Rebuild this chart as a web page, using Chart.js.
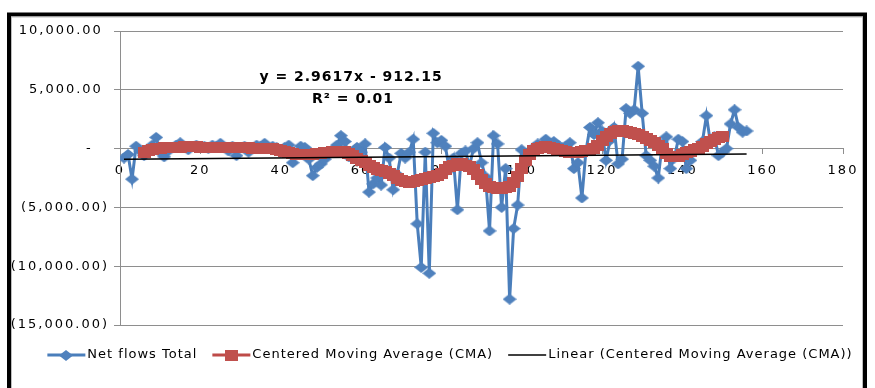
<!DOCTYPE html>
<html>
<head>
<meta charset="utf-8">
<script src="https://cdn.jsdelivr.net/npm/chart.js@4/dist/chart.umd.min.js"></script>
<style>
  html, body { margin: 0; padding: 0; background: #ffffff; }
  canvas { display: block; }
</style>
</head>
<body>
<canvas id="flows" width="875" height="388"></canvas>
<script>
// ---- data ---------------------------------------------------------------
// Net flows per period, periods numbered from 1
const NET_FIRST_PERIOD = 1;
const netFlows = [
  -800, -500, -2600, 200, -200, -600, -100, 300, 950, -300,
  -700, -200, 100, 300, 500, 100, -100, 200, 300, 100,
  200, 0, 300, 200, 450, 100, -200, 200, -600, 100,
  200, -300, 100, 300, 200, 450, 0, 200, 100, -300,
  100, 300, -1200, -500, 200, 100, -900, -2300, -1600, -1300,
  -900, -400, -200, 300, 1100, 600, -700, -300, 100, -300,
  400, -3700, -3000, -2500, -3100, 100, -800, -3500, -2200, -400,
  -800, -300, 800, -6400, -10100, -300, -10600, 1300, 500, 700,
  200, -1800, -800, -5200, -400, -200, -1500, 0, 500, -1200,
  -2400, -7000, 1100, 400, -5000, -1700, -12800, -6800, -4800, -100,
  -700, -300, 100, 400, 300, 800, 400, 600, 300, 100,
  200, 500, -1700, -1200, -4200, -200, 1800, 1200, 2200, 1500,
  -1000, 700, 1800, -1300, -900, 3400, 3000, 3300, 7000, 3000,
  -600, -1000, -1500, -2500, 400, 1000, -1700, -800, 800, 600,
  -1700, -1000, -200, 0, 600, 2800, 500, 1000, -600, -300,
  0, 2100, 3300, 1800, 1400, 1500
];

// Centered moving average, first value sits on period 6
const CMA_FIRST_PERIOD = 6;
const cmaValues = [
  -350, -200, -100, 0, 50, 80, 100, 120, 130, 130,
  140, 140, 140, 140, 130, 130, 120, 120, 110, 100,
  100, 90, 80, 80, 70, 60, 60, 50, 50, 40,
  30, 10, -20, -60, -150, -250, -350, -450, -500, -520,
  -530, -520, -500, -450, -400, -350, -300, -250, -230, -220,
  -250, -400, -600, -800, -1000, -1200, -1400, -1600, -1750, -1850,
  -1950, -2100, -2300, -2500, -2700, -2800, -2850, -2800, -2700, -2600,
  -2500, -2450, -2400, -2300, -2100, -1800, -1500, -1400, -1300, -1300,
  -1400, -1500, -1800, -2200, -2600, -3000, -3200, -3300, -3400, -3400,
  -3350, -3200, -2900, -2400, -1700, -1000, -500, -200, 0, 100,
  150, 100, 0, -100, -200, -250, -300, -300, -300, -250,
  -200, -150, 0, 300, 700, 1000, 1300, 1450, 1500, 1500,
  1450, 1400, 1300, 1200, 1050, 900, 700, 500, 300, 0,
  -400, -650, -700, -650, -500, -350, -250, -100, 50, 200,
  400, 600, 800, 950, 1000
];

// Linear trend fitted to the moving average
const TREND_SLOPE = 2.9617;
const TREND_INTERCEPT = -912.15;
const TREND_R2 = 0.01;
const TREND_RANGE = [1, 156];

// Axes
const X_AXIS = { min: 0, max: 180, step: 20 };
const Y_AXIS = { min: -15000, max: 10000, step: 5000 };

const SERIES_NAMES = [
  'Net flows Total',
  'Centered Moving Average (CMA)',
  'Linear (Centered Moving Average (CMA))'
];

// ---- helpers ------------------------------------------------------------
const toPoints = (first, values) => values.map((v, i) => ({ x: first + i, y: v }));

const trendPoints = TREND_RANGE.map(x => ({ x, y: TREND_SLOPE * x + TREND_INTERCEPT }));

function accounting(v) {
  if (v === 0) return '-\u2007 ';
  const s = Math.abs(v).toLocaleString('en-US', { minimumFractionDigits: 2, maximumFractionDigits: 2 });
  return v < 0 ? '(' + s + ')' : s + ' ';
}

function markerCanvas(w, h, fill, shape) {
  const c = document.createElement('canvas');
  c.width = w; c.height = h;
  const g = c.getContext('2d');
  g.fillStyle = fill;
  if (shape === 'diamond') {
    g.beginPath();
    g.moveTo(w / 2, 0); g.lineTo(w, h / 2); g.lineTo(w / 2, h); g.lineTo(0, h / 2);
    g.closePath(); g.fill();
  } else {
    g.fillRect(0, 0, w, h);
  }
  return c;
}

const BLUE_LINE = '#4A7EBB', BLUE_MARK = '#4F81BD';
const RED_LINE = '#BE4B48', RED_MARK = '#C0504D';
const diamondMark = markerCanvas(14, 11, BLUE_MARK, 'diamond');
const squareMark = markerCanvas(13, 11, RED_MARK, 'square');

const FONT_FAMILY = '"DejaVu Sans", sans-serif';
const AXIS_TRACKING = '2px';
const TEXT_TRACKING = '1px';

// ---- plugins ------------------------------------------------------------
// wider letter spacing for the axis numbers
const tracking = {
  id: 'tracking',
  beforeUpdate(chart) { chart.ctx.letterSpacing = AXIS_TRACKING; },
  beforeLayout(chart) { chart.ctx.letterSpacing = AXIS_TRACKING; },
  beforeDraw(chart) { chart.ctx.letterSpacing = AXIS_TRACKING; }
};

const frame = {
  id: 'frame',
  beforeDraw(chart) {
    const ctx = chart.ctx;
    ctx.save();
    ctx.fillStyle = '#ffffff';
    ctx.fillRect(0, 0, chart.width, chart.height);
    ctx.strokeStyle = '#000000';
    ctx.lineWidth = 4;
    ctx.strokeRect(9, 14.5, 856, 390);
    ctx.strokeStyle = '#bdbdbd';
    ctx.lineWidth = 1;
    ctx.strokeRect(11.5, 17, 851, 390);
    ctx.restore();
  }
};

const trendLabel = {
  id: 'trendLabel',
  afterDatasetsDraw(chart) {
    const ctx = chart.ctx;
    ctx.save();
    ctx.letterSpacing = TEXT_TRACKING;
    ctx.font = 'bold 14px ' + FONT_FAMILY;
    ctx.fillStyle = '#000000';
    ctx.textAlign = 'center';
    ctx.textBaseline = 'middle';
    const sign = TREND_INTERCEPT < 0 ? ' - ' : ' + ';
    ctx.fillText('y = ' + TREND_SLOPE + 'x' + sign + Math.abs(TREND_INTERCEPT).toFixed(2), 351, 77);
    ctx.fillText('R\u00B2 = ' + TREND_R2.toFixed(2), 353, 99);
    ctx.restore();
  }
};

const bottomLegend = {
  id: 'bottomLegend',
  afterDraw(chart) {
    const ctx = chart.ctx;
    ctx.save();
    ctx.letterSpacing = TEXT_TRACKING;
    ctx.font = '13px ' + FONT_FAMILY;
    ctx.textBaseline = 'middle';
    ctx.textAlign = 'left';
    const symW = 38, gapText = 2, gapItem = 15, cy = 355;
    const sets = chart.data.datasets;
    const widths = sets.map(d => ctx.measureText(d.label).width);
    const total = widths.reduce((a, w) => a + symW + gapText + w, 0) + gapItem * (sets.length - 1);
    let x = 450 - total / 2;
    sets.forEach((d, i) => {
      ctx.strokeStyle = d.borderColor;
      ctx.lineWidth = d.borderWidth;
      ctx.beginPath();
      ctx.moveTo(x, cy); ctx.lineTo(x + symW, cy);
      ctx.stroke();
      if (d.pointStyle && typeof d.pointStyle === 'object') {
        const m = d.pointStyle;
        ctx.drawImage(m, Math.round(x + symW / 2 - m.width / 2), Math.round(cy - m.height / 2));
      }
      ctx.fillStyle = '#000000';
      ctx.fillText(d.label, x + symW + gapText, cy);
      x += symW + gapText + widths[i] + gapItem;
    });
    ctx.restore();
  }
};

// ---- chart --------------------------------------------------------------
const PAD_LEFT = 10;

new Chart(document.getElementById('flows'), {
  type: 'scatter',
  data: {
    datasets: [
      {
        label: SERIES_NAMES[0],
        data: toPoints(NET_FIRST_PERIOD, netFlows),
        showLine: true,
        borderColor: BLUE_LINE,
        borderWidth: 3,
        pointStyle: diamondMark,
        pointRadius: 5,
        order: 3
      },
      {
        label: SERIES_NAMES[1],
        data: toPoints(CMA_FIRST_PERIOD, cmaValues),
        showLine: true,
        borderColor: RED_LINE,
        borderWidth: 3,
        pointStyle: squareMark,
        pointRadius: 5,
        order: 2
      },
      {
        label: SERIES_NAMES[2],
        data: trendPoints,
        showLine: true,
        borderColor: '#000000',
        borderWidth: 1.5,
        pointRadius: 0,
        order: 1
      }
    ]
  },
  options: {
    responsive: false,
    animation: false,
    devicePixelRatio: 1,
    layout: { padding: { top: 31, right: 32, bottom: 63, left: PAD_LEFT } },
    plugins: {
      legend: { display: false },
      tooltip: { enabled: false }
    },
    scales: {
      x: {
        type: 'linear',
        position: { y: 0 },
        min: X_AXIS.min,
        max: X_AXIS.max,
        ticks: {
          stepSize: X_AXIS.step,
          color: '#000000',
          font: { family: FONT_FAMILY, size: 13 },
          padding: 9,
          maxRotation: 0
        },
        grid: { drawOnChartArea: false, drawTicks: true, tickLength: 5, color: '#8e8e8e' },
        border: { display: true, color: '#8e8e8e', width: 1 }
      },
      y: {
        min: Y_AXIS.min,
        max: Y_AXIS.max,
        afterFit(scale) { scale.width = 120 - PAD_LEFT; },
        ticks: {
          stepSize: Y_AXIS.step,
          color: '#000000',
          font: { family: FONT_FAMILY, size: 13 },
          padding: 5,
          callback: v => accounting(v)
        },
        grid: { color: '#8e8e8e', lineWidth: 1, tickLength: 6 },
        border: { display: true, color: '#8e8e8e', width: 1 }
      }
    }
  },
  plugins: [tracking, frame, trendLabel, bottomLegend]
});
</script>
</body>
</html>
